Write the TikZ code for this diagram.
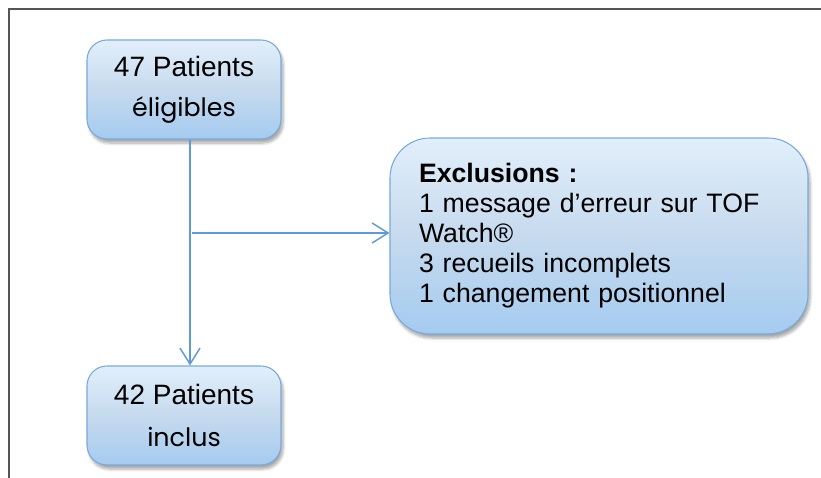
\documentclass[tikz,border=0pt]{standalone}
\usepackage{fontspec}
\setmainfont{Liberation Sans}
\newfontfamily\gothic{Poppins}
\usetikzlibrary{arrows.meta,shadows.blur}
\definecolor{boxtop}{HTML}{E2EFFB}
\definecolor{boxmid}{HTML}{C6DAEE}
\definecolor{boxbot}{HTML}{A5CBF0}
\definecolor{boxedge}{HTML}{78AADC}
\definecolor{linkc}{HTML}{5E9BD6}
\definecolor{framec}{HTML}{555555}
\tikzset{
  flowbox/.style={draw=boxedge, line width=0.8pt, rounded corners=15pt,
    top color=boxtop, bottom color=boxbot, middle color=boxmid,
    blur shadow={shadow xshift=1.5pt, shadow yshift=-3pt, shadow blur steps=6, shadow opacity=35},
    align=center, minimum width=145.5pt, minimum height=74.25pt, inner sep=0pt,
    font=\fontsize{21}{29}\selectfont},
  exclbox/.style={flowbox, rounded corners=30pt, minimum width=313.5pt, minimum height=147pt,
    align=left, text width=270pt, font=\fontsize{20}{22.5}\selectfont},
  link/.style={draw=linkc, line width=1.1pt, -{Straight Barb[length=12pt,width=15pt,line width=1.1pt]}},
}
\begin{document}
\begin{tikzpicture}[x=0.75pt,y=-0.75pt]
\useasboundingbox (0,0) rectangle (821,478);
\draw[framec, line width=1pt] (9,478) -- (9,9) -- (821,9);
\node[flowbox] (b1) at (184,89.5) {47 Patients\\[1pt] {\gothic\fontsize{19}{29}\selectfont éligibles}};
\node[flowbox] (b2) at (184,415.5) {42 Patients\\[2pt] {\gothic\fontsize{19}{29}\selectfont inclus}};
\node[exclbox] (b3) at (599,236) {\textbf{Exclusions :}\\1 message d’erreur sur TOF\\Watch®\\3 recueils incomplets\\1 changement positionnel};
\coordinate (j) at (192,233);
\draw[link] ([xshift=4.5pt]b1.south) -- ([xshift=4.5pt]b2.north);
\draw[link] (j) -- (b3.west |- j);
\end{tikzpicture}
\end{document}
